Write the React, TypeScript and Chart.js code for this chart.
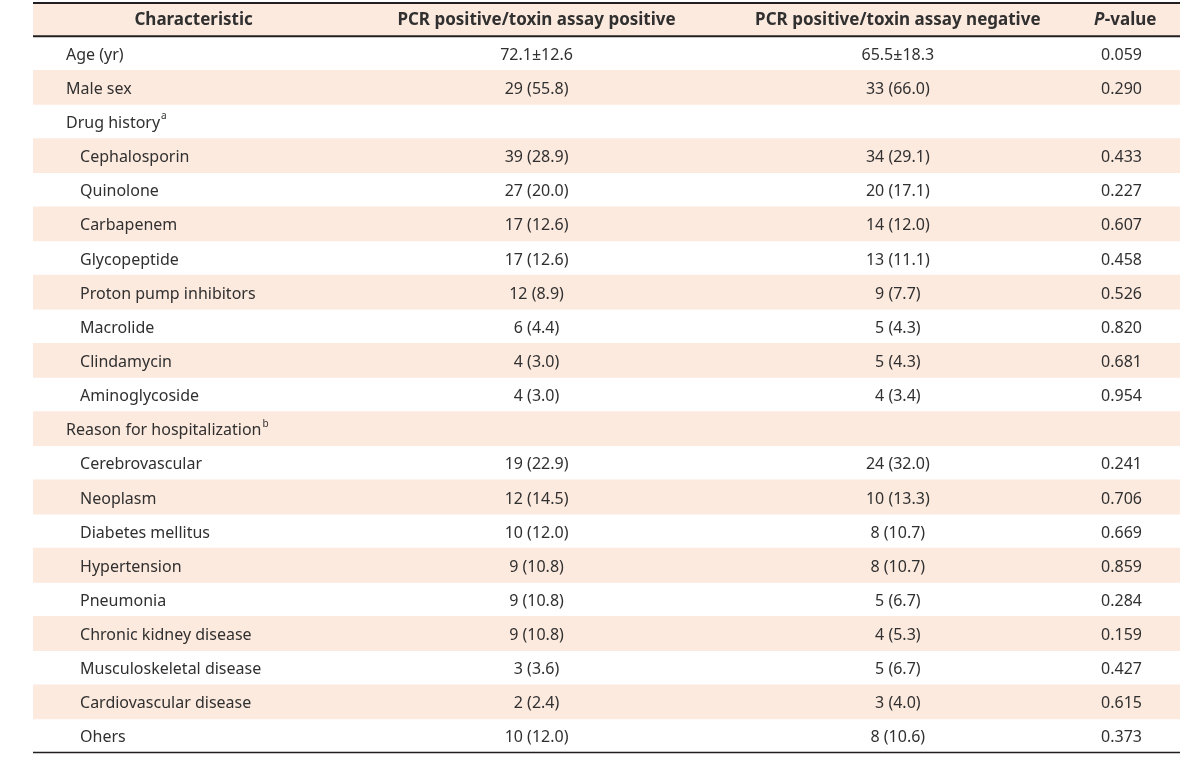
import React, { useEffect, useRef } from "react";
import { Chart, registerables } from "chart.js";

Chart.register(...registerables);

const headers = [
  "Characteristic",
  "PCR positive/toxin assay positive",
  "PCR positive/toxin assay negative",
  "P-value",
];

const characteristics = [
  "Age (yr)",
  "Male sex",
  "Drug history",
  "Cephalosporin",
  "Quinolone",
  "Carbapenem",
  "Glycopeptide",
  "Proton pump inhibitors",
  "Macrolide",
  "Clindamycin",
  "Aminoglycoside",
  "Reason for hospitalization",
  "Cerebrovascular",
  "Neoplasm",
  "Diabetes mellitus",
  "Hypertension",
  "Pneumonia",
  "Chronic kidney disease",
  "Musculoskeletal disease",
  "Cardiovascular disease",
  "Ohers",
];

const indentLevels = [0, 0, 0, 1, 1, 1, 1, 1, 1, 1, 1, 0, 1, 1, 1, 1, 1, 1, 1, 1, 1];

const footnoteMarks = ["", "", "a", "", "", "", "", "", "", "", "", "b", "", "", "", "", "", "", "", "", ""];

const toxinPositive = [
  "72.1±12.6", "29 (55.8)", "", "39 (28.9)", "27 (20.0)", "17 (12.6)", "17 (12.6)",
  "12 (8.9)", "6 (4.4)", "4 (3.0)", "4 (3.0)", "", "19 (22.9)", "12 (14.5)",
  "10 (12.0)", "9 (10.8)", "9 (10.8)", "9 (10.8)", "3 (3.6)", "2 (2.4)", "10 (12.0)",
];

const toxinNegative = [
  "65.5±18.3", "33 (66.0)", "", "34 (29.1)", "20 (17.1)", "14 (12.0)", "13 (11.1)",
  "9 (7.7)", "5 (4.3)", "5 (4.3)", "4 (3.4)", "", "24 (32.0)", "10 (13.3)",
  "8 (10.7)", "8 (10.7)", "5 (6.7)", "4 (5.3)", "5 (6.7)", "3 (4.0)", "8 (10.6)",
];

const pValues = [
  "0.059", "0.290", "", "0.433", "0.227", "0.607", "0.458", "0.526", "0.820", "0.681",
  "0.954", "", "0.241", "0.706", "0.669", "0.859", "0.284", "0.159", "0.427", "0.615", "0.373",
];

const categories = ["header", ...characteristics];
const shadedRows = categories.map((_, i) => (i % 2 === 0 ? [0, 1] : null));

const FONT = "'Noto Sans', sans-serif";
const TEXT = "#303030";
const LINE = "#231f20";

const tablePlugin = {
  id: "tableText",
  afterDatasetsDraw(chart: any) {
    const { ctx, chartArea, scales } = chart;
    const xs = scales.x;
    const ys = scales.y;
    const colLabel = xs.getPixelForValue(0.0288);
    const colIndent = xs.getPixelForValue(0.041);
    const headerCenters = [0.140, 0.439, 0.754, 0.952].map((v) => xs.getPixelForValue(v));
    const colCenters = [0.128, 0.439, 0.754, 0.949].map((v) => xs.getPixelForValue(v));
    ctx.save();
    ctx.textBaseline = "middle";
    ctx.fillStyle = TEXT;

    // header
    const hy = ys.getPixelForValue(0) + 1;
    ctx.font = `bold 17px ${FONT}`;
    ctx.textAlign = "center";
    for (let c = 0; c < 3; c++) ctx.fillText(headers[c], headerCenters[c], hy);
    {
      const p = headers[3].slice(0, 1);
      const rest = headers[3].slice(1);
      ctx.font = `italic bold 17px ${FONT}`;
      const wp = ctx.measureText(p).width;
      ctx.font = `bold 17px ${FONT}`;
      const wr = ctx.measureText(rest).width;
      const start = headerCenters[3] - (wp + wr) / 2;
      ctx.textAlign = "left";
      ctx.font = `italic bold 17px ${FONT}`;
      ctx.fillText(p, start, hy);
      ctx.font = `bold 17px ${FONT}`;
      ctx.fillText(rest, start + wp + 0.5, hy);
    }

    // body
    for (let i = 0; i < characteristics.length; i++) {
      const y = ys.getPixelForValue(i + 1) + 2;
      ctx.font = `16px ${FONT}`;
      ctx.textAlign = "left";
      const lx = indentLevels[i] ? colIndent : colLabel;
      ctx.fillText(characteristics[i], lx, y);
      if (footnoteMarks[i]) {
        const w = ctx.measureText(characteristics[i]).width;
        ctx.font = `10px ${FONT}`;
        ctx.fillText(footnoteMarks[i], lx + w + 1, y - 7);
        ctx.font = `16px ${FONT}`;
      }
      ctx.textAlign = "center";
      ctx.fillText(toxinPositive[i], colCenters[1], y);
      ctx.fillText(toxinNegative[i], colCenters[2], y);
      ctx.fillText(pValues[i], colCenters[3], y);
    }

    // rules
    ctx.strokeStyle = LINE;
    ctx.lineWidth = 2;
    ctx.beginPath();
    ctx.moveTo(chartArea.left, chartArea.top + 1);
    ctx.lineTo(chartArea.right, chartArea.top + 1);
    const hb = (ys.getPixelForValue(0) + ys.getPixelForValue(1)) / 2;
    ctx.moveTo(chartArea.left, hb);
    ctx.lineTo(chartArea.right, hb);
    ctx.stroke();
    ctx.lineWidth = 1.5;
    ctx.beginPath();
    ctx.moveTo(chartArea.left, chartArea.bottom - 0.5);
    ctx.lineTo(chartArea.right, chartArea.bottom - 0.5);
    ctx.stroke();
    ctx.restore();
  },
};

export default function App() {
  const ref = useRef<HTMLCanvasElement>(null);
  useEffect(() => {
    if (!ref.current) return;
    const chart = new Chart(ref.current, {
      type: "bar",
      data: {
        labels: categories,
        datasets: [
          {
            data: shadedRows as any,
            backgroundColor: "#fdeadf",
            borderWidth: 0,
            barPercentage: 1,
            categoryPercentage: 1,
          },
        ],
      },
      options: {
        indexAxis: "y",
        responsive: false,
        maintainAspectRatio: false,
        devicePixelRatio: 1,
        animation: false,
        events: [],
        layout: { padding: { left: 33, right: 20, top: 2, bottom: 4 } },
        plugins: { legend: { display: false }, tooltip: { enabled: false } },
        scales: {
          x: { type: "linear", min: 0, max: 1, display: false },
          y: { type: "category", display: false, offset: true, grid: { display: false } },
        },
      },
      plugins: [tablePlugin],
    });
    return () => chart.destroy();
  }, []);
  return (
    <div style={{ position: "absolute", left: 0, top: 0, width: 1200, height: 757, background: "#fff" }}>
      <canvas ref={ref} width={1200} height={757} style={{ display: "block" }} />
    </div>
  );
}
